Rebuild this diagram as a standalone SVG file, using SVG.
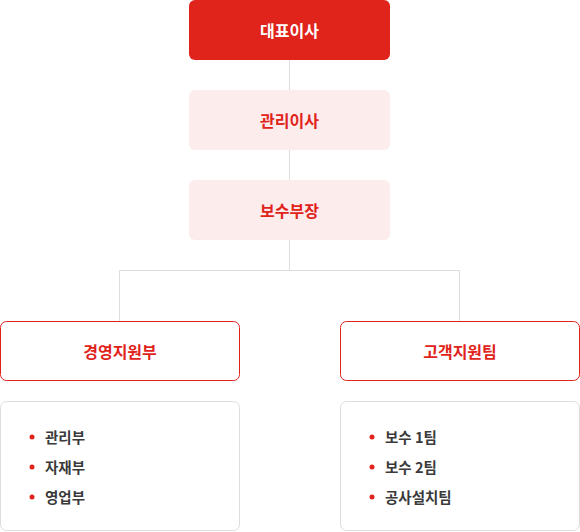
<svg xmlns="http://www.w3.org/2000/svg" width="580" height="532" viewBox="0 0 580 532">
<style>
text{font-family:"Noto Sans CJK KR","Noto Sans",sans-serif;font-weight:bold}
.t{font-size:16px;text-anchor:middle;dominant-baseline:central}
.w{fill:#ffffff}
.r{fill:#e0231b}
.pink{fill:#fdecec}
.li{font-size:14.5px;fill:#3a3a3a;dominant-baseline:central;font-weight:bold}
.dot{fill:#e0231b}
.conn{stroke:#dddddd;stroke-width:1;fill:none}
</style>
<g id="connectors">
<path class="conn" d="M289.5 60V270M119.5 321V270.5H459.5V321"/>
</g>
<g id="ceo"><rect x="189" y="0" width="201" height="60" rx="6" fill="#e0231b"/><text class="t w" x="289.5" y="30">대표이사</text></g>
<g id="director"><rect x="189" y="90" width="201" height="60" rx="6" class="pink"/><text class="t r" x="289.5" y="120">관리이사</text></g>
<g id="manager"><rect x="189" y="180" width="201" height="60" rx="6" class="pink"/><text class="t r" x="289.5" y="210">보수부장</text></g>
<g id="mgmt"><rect x="0.5" y="321.5" width="239" height="59" rx="6" fill="#fff" stroke="#e0231b"/><text class="t r" x="120" y="351">경영지원부</text></g>
<g id="cs"><rect x="340.5" y="321.5" width="239" height="59" rx="6" fill="#fff" stroke="#e0231b"/><text class="t r" x="460" y="351">고객지원팀</text></g>
<g id="mgmt-list"><rect x="0.5" y="401.5" width="239" height="129" rx="6" fill="#fff" stroke="#dddddd"/>
<circle class="dot" cx="32" cy="437" r="2.5"/><text class="li" x="45" y="436">관리부</text>
<circle class="dot" cx="32" cy="467" r="2.5"/><text class="li" x="45" y="466">자재부</text>
<circle class="dot" cx="32" cy="497" r="2.5"/><text class="li" x="45" y="496">영업부</text>
</g>
<g id="cs-list"><rect x="340.5" y="401.5" width="239" height="129" rx="6" fill="#fff" stroke="#dddddd"/>
<circle class="dot" cx="372" cy="437" r="2.5"/><text class="li" x="385" y="436">보수 1팀</text>
<circle class="dot" cx="372" cy="467" r="2.5"/><text class="li" x="385" y="466">보수 2팀</text>
<circle class="dot" cx="372" cy="497" r="2.5"/><text class="li" x="385" y="496">공사설치팀</text>
</g>
</svg>
